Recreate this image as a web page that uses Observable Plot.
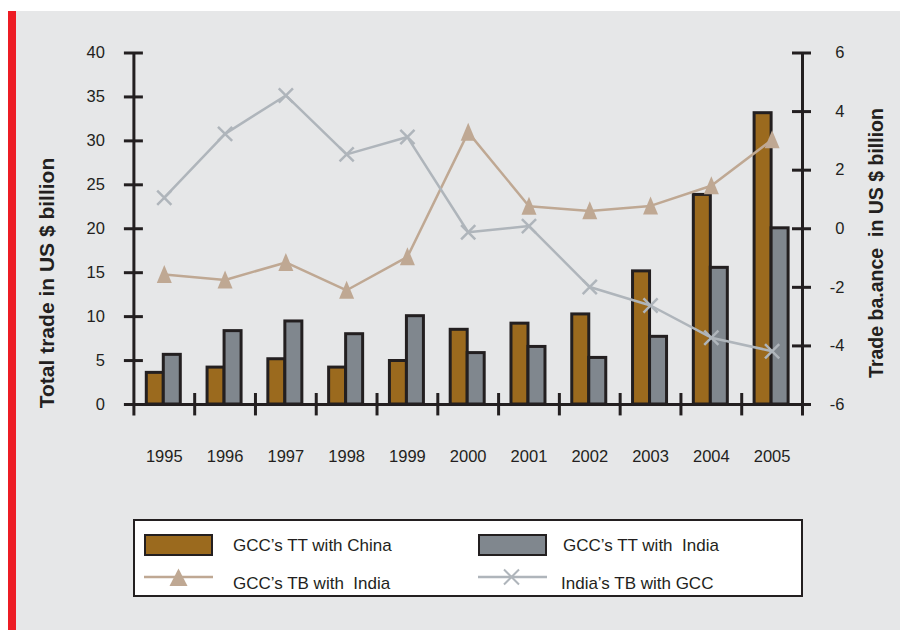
<!DOCTYPE html>
<html>
<head>
<meta charset="utf-8">
<script src="https://cdn.jsdelivr.net/npm/d3@7"></script>
<script src="https://cdn.jsdelivr.net/npm/@observablehq/plot@0.6"></script>
<style>
html,body{margin:0;padding:0;background:#fff;}
#wrap{position:relative;width:900px;height:630px;overflow:hidden;font-family:"Liberation Sans",Arial,sans-serif;color:#231f20;}
#bg{position:absolute;left:16px;top:11px;right:0;bottom:0;background:#e6e7e8;}
#stripe{position:absolute;left:8px;top:11px;width:8px;bottom:0;background:#ed1c24;}
#chart{position:absolute;left:0;top:0;}
.ytitle{position:absolute;font-weight:bold;white-space:pre;transform:translate(-50%,-50%) rotate(-90deg);line-height:1;}
#legend{position:absolute;left:133px;top:519px;width:670px;height:78px;box-sizing:border-box;background:#fff;border:2px solid #231f20;}
.sw{position:absolute;box-sizing:border-box;border:2.5px solid #231f20;width:69px;height:22px;}
.lt{position:absolute;font-size:17px;line-height:20px;white-space:pre;}
#legsvg{position:absolute;left:0;top:0;}
</style>
</head>
<body>
<div id="wrap">
  <div id="bg"></div>
  <div id="stripe"></div>
  <div id="chart"></div>
  <div class="ytitle" style="left:46px;top:283px;font-size:21px;">Total trade in US $ billion</div>
  <div class="ytitle" style="left:877px;top:243px;font-size:19.5px;">Trade ba.ance  in US $ billion</div>
  <div id="legend"></div>
  <div class="sw" style="left:144px;top:534px;background:#9b6a1e;"></div>
  <div class="lt" style="left:233px;top:536px;">GCC’s TT with China</div>
  <div class="sw" style="left:478px;top:534px;background:#80878e;"></div>
  <div class="lt" style="left:563px;top:536px;">GCC’s TT with  India</div>
  <div class="lt" style="left:233px;top:574px;">GCC’s TB with  India</div>
  <div class="lt" style="left:561px;top:574px;">India’s TB with GCC</div>
  <svg id="legsvg" width="900" height="630">
    <line x1="144" y1="577" x2="213" y2="577" stroke="#bfa893" stroke-width="2.5"/>
    <path d="M178.5,568.5L187.5,586L169.5,586Z" fill="#bfa893"/>
    <line x1="478" y1="577" x2="547" y2="577" stroke="#afb5bb" stroke-width="2.5"/>
    <path d="M504,569.5L519,584.5M504,584.5L519,569.5" stroke="#afb5bb" stroke-width="2"/>
  </svg>
</div>
<script>
const years = ["1995","1996","1997","1998","1999","2000","2001","2002","2003","2004","2005"];
// GCC's total trade (US $ billion), left axis
const ttChina = [3.6, 4.2, 5.15, 4.2, 4.95, 8.5, 9.2, 10.25, 15.15, 23.85, 33.15];
const ttIndia = [5.65, 8.35, 9.45, 8.0, 10.05, 5.85, 6.55, 5.3, 7.7, 15.55, 20.05];
// Trade balances (US $ billion), right axis
const tbGccIndia = [-1.56, -1.75, -1.15, -2.1, -0.96, 3.29, 0.77, 0.61, 0.78, 1.47, 3.04];
const tbIndiaGcc = [1.06, 3.24, 4.55, 2.54, 3.13, -0.12, 0.09, -1.99, -2.62, -3.72, -4.18];
const leftTicks = [0, 5, 10, 15, 20, 25, 30, 35, 40];
const rightTicks = [-6, -4, -2, 0, 2, 4, 6];

const W = 900, H = 630, mL = 133.4, mR = 98, mT = 52.5, mB = 226;
const bw = (W - mL - mR) / years.length;
const ink = "#231f20";
const toLeft = v => (v + 6) * 40 / 12;
const toRight = d => String(Math.round(d * 12 / 40 - 6));
const rows = years.map((year, i) => ({
  year, china: ttChina[i], india: ttIndia[i],
  tbg: toLeft(tbGccIndia[i]), tbi: toLeft(tbIndiaGcc[i])
}));
const tri = {draw(ctx, size) {
  const r = Math.sqrt(size / Math.PI);
  ctx.moveTo(0, -1.27 * r); ctx.lineTo(r, 1.13 * r); ctx.lineTo(-r, 1.13 * r); ctx.closePath();
}};

const chart = Plot.plot({
  width: W, height: H,
  marginLeft: mL, marginRight: mR, marginTop: mT, marginBottom: mB,
  style: {background: "transparent", fontFamily: "Liberation Sans, Arial, sans-serif", fontSize: "16.5px", color: ink, overflow: "visible"},
  x: {type: "band", domain: years, padding: 0, round: false},
  y: {domain: [0, 40]},
  marks: [
    Plot.barY(rows, {x: "year", y: "china", fill: "#9b6a1e", stroke: ink, strokeWidth: 3, insetLeft: bw / 2 - 17.5, insetRight: bw / 2 + 0.5}),
    Plot.barY(rows, {x: "year", y: "india", fill: "#80878e", stroke: ink, strokeWidth: 3, insetLeft: bw / 2 - 0.5, insetRight: bw / 2 - 16.5}),
    Plot.ruleY([0], {stroke: ink, strokeWidth: 3}),
    Plot.ruleX(years.slice(1), {dx: -bw / 2, y1: -1.3, y2: 1.25, stroke: ink, strokeWidth: 3}),
    Plot.ruleX([years[0]], {dx: -bw / 2, y1: -1.3, y2: 40, stroke: ink, strokeWidth: 3}),
    Plot.ruleX([years[years.length - 1]], {dx: bw / 2, y1: -1.3, y2: 40, stroke: ink, strokeWidth: 3}),
    Plot.line(rows, {x: "year", y: "tbg", stroke: "#bfa893", strokeWidth: 2.5}),
    Plot.dot(rows, {x: "year", y: "tbg", symbol: tri, r: 7.5, fill: "#bfa893", stroke: "none"}),
    Plot.line(rows, {x: "year", y: "tbi", stroke: "#afb5bb", strokeWidth: 2.5}),
    Plot.dot(rows, {x: "year", y: "tbi", symbol: "times", r: 6.5, stroke: "#afb5bb", strokeWidth: 2.5}),
    Plot.axisX({tickSize: 0, tickPadding: 46, fontSize: 16.5, label: null, color: ink}),
    Plot.axisY(leftTicks, {anchor: "left", tickSize: 19, dx: 9.5, tickPadding: 19.5, strokeWidth: 3, color: ink, fontSize: 16.5, label: null}),
    Plot.axisY(rightTicks.map(toLeft), {anchor: "right", tickSize: 19, dx: -11, tickPadding: 34, textAnchor: "end", tickFormat: toRight, strokeWidth: 3, color: ink, fontSize: 16.5, label: null})
  ]
});
document.getElementById("chart").appendChild(chart);
</script>
</body>
</html>
